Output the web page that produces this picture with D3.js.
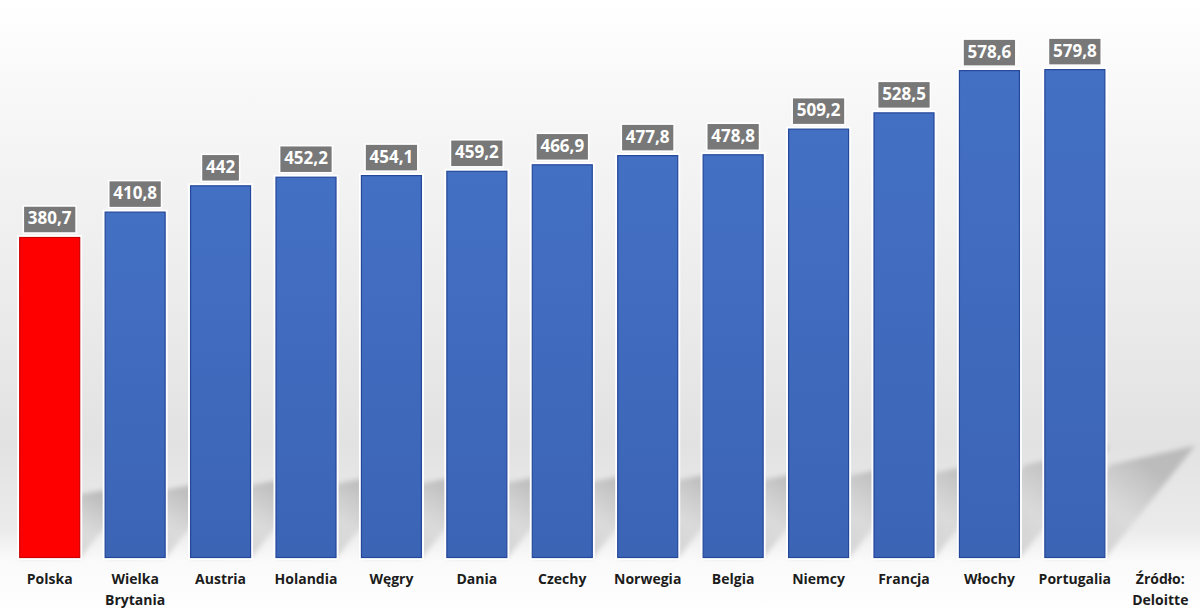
<!DOCTYPE html>
<html>
<head>
<meta charset="utf-8">
<script src="https://cdn.jsdelivr.net/npm/d3@7"></script>
<style>
  html, body { margin: 0; padding: 0; background: #fff; }
  svg { display: block; }
</style>
</head>
<body>
<script>
// ---- data ----
const categories = ["Polska", "Wielka\nBrytania", "Austria", "Holandia", "Węgry", "Dania", "Czechy",
  "Norwegia", "Belgia", "Niemcy", "Francja", "Włochy", "Portugalia", "Źródło:\nDeloitte"];
const values = [380.7, 410.8, 442, 452.2, 454.1, 459.2, 466.9, 477.8, 478.8, 509.2, 528.5, 578.6, 579.8];
const highlight = ["Polska"];

const W = 1200, H = 616;
const baseY = 558;

const svg = d3.select("body").append("svg").attr("width", W).attr("height", H);
const defs = svg.append("defs");

// background gradient
const bg = defs.append("linearGradient").attr("id", "bg").attr("x1", 0).attr("y1", 0).attr("x2", 0).attr("y2", 1);
[[0, "#ffffff"], [0.2, "#f6f6f6"], [0.5, "#ebebeb"], [0.72, "#e2e2e2"], [0.86, "#ebebeb"], [0.91, "#fafafa"], [1, "#ffffff"]]
  .forEach(([o, c]) => bg.append("stop").attr("offset", o).attr("stop-color", c));
svg.append("rect").attr("width", W).attr("height", H).attr("fill", "url(#bg)");

// shadow blur filter
const f = defs.append("filter").attr("id", "blur").attr("x", "-20%").attr("y", "-20%").attr("width", "140%").attr("height", "140%");
f.append("feGaussianBlur").attr("stdDeviation", 2.5);

const sg = defs.append("linearGradient").attr("id", "sg").attr("x1", 0).attr("y1", 1).attr("x2", 1).attr("y2", 0);
[[0, "#bcbcbc", 0.75], [0.45, "#d4d4d4", 0.7], [0.75, "#b8b8b8", 0.9], [1, "#b8b8b8", 0.95]]
  .forEach(([o, c, op]) => sg.append("stop").attr("offset", o).attr("stop-color", c).attr("stop-opacity", op));

// bar gradients
const bgBlue = defs.append("linearGradient").attr("id", "blue").attr("x1", 0).attr("y1", 0).attr("x2", 0).attr("y2", 1);
bgBlue.append("stop").attr("offset", 0).attr("stop-color", "#4470c4");
bgBlue.append("stop").attr("offset", 1).attr("stop-color", "#3b64b5");

// scales
const x = d3.scaleBand().domain(categories).range([7, 1203]).paddingInner(0.286).paddingOuter(0.143);
const y = d3.scaleLinear().domain([0, 600]).range([baseY, baseY - 600 * 0.8432]);

const barData = values.map((v, i) => ({ cat: categories[i], v }));

// shadows
svg.append("g").selectAll("polygon").data(barData).join("polygon")
  .attr("points", d => {
    const x0 = x(d.cat), x1 = x0 + x.bandwidth();
    const h = baseY - y(d.v);
    return [[x0, baseY], [x1, baseY], [x1 + 0.184 * h, baseY - 0.23 * h], [x0 + 0.133 * h, baseY - 0.19 * h]]
      .map(p => p.join(",")).join(" ");
  })
  .attr("fill", "url(#sg)")
  .attr("filter", "url(#blur)");

// bars: white outline, then fill with dark edge
const bars = svg.append("g");
bars.selectAll("rect.outline").data(barData).join("rect").attr("class", "outline")
  .attr("x", d => x(d.cat)).attr("y", d => y(d.v))
  .attr("width", x.bandwidth()).attr("height", d => baseY - y(d.v))
  .attr("fill", "none").attr("stroke", "#ffffff").attr("stroke-width", 4);
bars.selectAll("rect.bar").data(barData).join("rect").attr("class", "bar")
  .attr("x", d => x(d.cat) + 0.5).attr("y", d => y(d.v) + 0.5)
  .attr("width", x.bandwidth() - 1).attr("height", d => baseY - y(d.v) - 1)
  .attr("fill", d => highlight.includes(d.cat) ? "#ff0000" : "url(#blue)")
  .attr("stroke", d => highlight.includes(d.cat) ? "#c80000" : "#24479a")
  .attr("stroke-width", 1.2);

// value labels
const fmt = v => String(v).replace(".", ",");
const lab = svg.append("g").selectAll("g").data(barData).join("g");
const txt = lab.append("text")
  .attr("x", d => x(d.cat) + x.bandwidth() / 2)
  .attr("y", d => y(d.v) - 12.5)
  .attr("text-anchor", "middle")
  .attr("font-family", "'Open Sans', sans-serif")
  .attr("font-weight", 700)
  .attr("font-size", 17)
  .attr("fill", "#ffffff")
  .text(d => fmt(d.v));
txt.each(function(d) {
  const w = this.getComputedTextLength() + 9;
  d3.select(this.parentNode).insert("rect", "text")
    .attr("x", x(d.cat) + x.bandwidth() / 2 - w / 2)
    .attr("y", y(d.v) - 4 - 27)
    .attr("width", w).attr("height", 27)
    .attr("fill", "#787878")
    .attr("stroke", "#ffffff").attr("stroke-width", 1.5);
});

// category labels
const cl = svg.append("g").selectAll("text").data(categories).join("text")
  .attr("x", d => x(d) + x.bandwidth() / 2)
  .attr("y", 584)
  .attr("text-anchor", "middle")
  .attr("font-family", "'Open Sans', sans-serif")
  .attr("font-weight", 700)
  .attr("font-size", 14)
  .attr("fill", "#1c1c1c");
cl.each(function(d) {
  const lines = d.split("\n");
  d3.select(this).selectAll("tspan").data(lines).join("tspan")
    .attr("x", x(d) + x.bandwidth() / 2)
    .attr("dy", (l, i) => i === 0 ? 0 : 21)
    .text(l => l);
});
</script>
</body>
</html>
